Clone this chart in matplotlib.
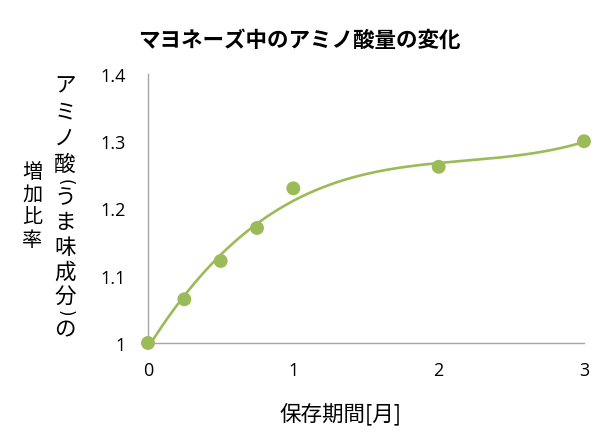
import numpy as np
import matplotlib
matplotlib.use("Agg")
import matplotlib.pyplot as plt

plt.rcParams['font.family'] = ['Noto Sans CJK JP', 'DejaVu Sans']

months = [0, 0.25, 0.5, 0.75, 1, 2, 3]
ratio = [1.0, 1.065, 1.122, 1.171, 1.230, 1.262, 1.300]
xticks = [0, 1, 2, 3]
yticks = [1.0, 1.1, 1.2, 1.3, 1.4]
ytick_labels = ['1', '1.1', '1.2', '1.3', '1.4']

title = 'マヨネーズ中のアミノ酸量の変化'
xlabel = '保存期間[月]'
ylabel_col1 = ['ア', 'ミ', 'ノ', '酸', '(', 'う', 'ま', '味', '成', '分', ')', 'の']
ylabel_col2 = ['増', '加', '比', '率']

green = '#9BBB59'

W, H = 600, 439
fig = plt.figure(figsize=(W/100, H/100), dpi=100)
ax = fig.add_axes([148/W, 1-344/H, (584-148)/W, (344-75)/H])

coef = np.polyfit(months, ratio, 3)
xs = np.linspace(0, 3, 200)
ax.plot(xs, np.polyval(coef, xs), color=green, lw=1.9, zorder=2)
ax.scatter(months, ratio, s=100, color=green, zorder=3, clip_on=False, edgecolors='none')

ax.set_xlim(0, 3)
ax.set_ylim(1.0, 1.4)
ax.set_xticks(xticks)
ax.set_xticklabels([str(t) for t in xticks], fontsize=13, family=['Open Sans', 'DejaVu Sans'])
ax.set_yticks(yticks)
ax.set_yticklabels(ytick_labels, fontsize=13, family=['Open Sans', 'DejaVu Sans'])
ax.tick_params(axis='y', length=0, pad=16)
ax.tick_params(axis='x', length=0, pad=13)
for s in ['top', 'right']:
    ax.spines[s].set_visible(False)
for s in ['left', 'bottom']:
    ax.spines[s].set_color('#A6A6A6')
    ax.spines[s].set_linewidth(1)

fig.text(299/W, 1-40/H, title, ha='center', va='center', fontsize=15.5, fontweight='bold')
fig.text(340/W, 1-414/H, xlabel, ha='center', va='center', fontsize=15.5)

# vertical y-axis label, right column (pixel centres)
col1_y = [85, 112, 139, 165, 182, 198, 223, 248, 273, 297, 313, 330]
for ch, yc in zip(ylabel_col1, col1_y):
    if ch in ('(', ')'):
        fig.text(65/W, 1-yc/H, ch, ha='center', va='center', fontsize=12,
                 rotation=-90, family=['DejaVu Sans'])
    else:
        fig.text(65/W, 1-yc/H, ch, ha='center', va='center', fontsize=15.5)
# left column
col2_y = [172, 195, 218, 241]
for ch, yc in zip(ylabel_col2, col2_y):
    fig.text(32/W, 1-yc/H, ch, ha='center', va='center', fontsize=14.5)

fig.savefig('out.png', dpi=100)
